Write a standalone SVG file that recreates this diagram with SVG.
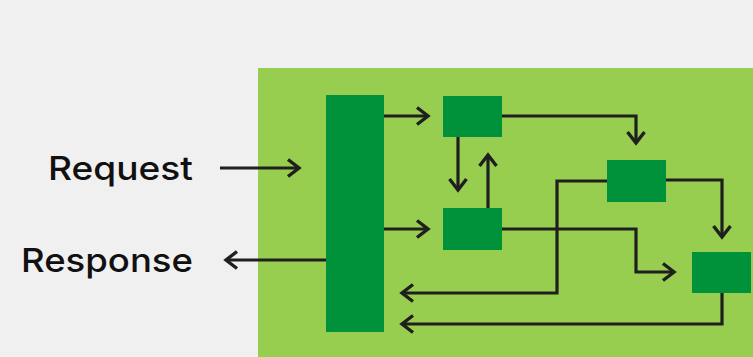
<svg xmlns="http://www.w3.org/2000/svg" width="753" height="357" viewBox="0 0 753 357">
<style>
.bg{fill:#f0f0f0}
.panel{fill:#98ce50}
.node{fill:#00923a}
.conn{fill:none;stroke:#1f1f1f;stroke-width:3.2;stroke-linejoin:miter}
.lbl{font-family:"Inter","Liberation Sans",sans-serif;font-size:33px;font-weight:500;fill:#111;text-anchor:end}
</style>
<defs>
<marker id="arr" markerUnits="userSpaceOnUse" markerWidth="20" markerHeight="22" viewBox="-14 -11 16 22" refX="0" refY="0" orient="auto">
<path d="M-11,-8.5 L0,0 L-11,8.5" fill="none" stroke="#1f1f1f" stroke-width="3.4"/>
</marker>
</defs>
<rect class="bg" x="0" y="0" width="753" height="357"/>
<rect id="panel" class="panel" x="258" y="68" width="495" height="289"/>
<g id="gateway"><rect class="node" x="326" y="95" width="58" height="237"/></g>
<g id="box1"><rect class="node" x="443" y="96" width="59" height="41"/></g>
<g id="box2"><rect class="node" x="443" y="208" width="59" height="42"/></g>
<g id="box3"><rect class="node" x="607" y="160" width="59" height="42"/></g>
<g id="box4"><rect class="node" x="692" y="252" width="59" height="41"/></g>
<g id="labels">
<text class="lbl" x="193" y="180" textLength="145" lengthAdjust="spacingAndGlyphs">Request</text>
<text class="lbl" x="193" y="272" textLength="172" lengthAdjust="spacingAndGlyphs">Response</text>
</g>
<g id="connectors">
<path class="conn" marker-end="url(#arr)" d="M220,168 H299"/>
<path class="conn" marker-end="url(#arr)" d="M326,260 H226"/>
<path class="conn" marker-end="url(#arr)" d="M384,116 H428"/>
<path class="conn" marker-end="url(#arr)" d="M384,229 H428"/>
<path class="conn" marker-end="url(#arr)" d="M458,137 V190"/>
<path class="conn" marker-end="url(#arr)" d="M488,208 V155"/>
<path class="conn" marker-end="url(#arr)" d="M502,116 H636 V143"/>
<path class="conn" marker-end="url(#arr)" d="M666,180 H722 V237"/>
<path class="conn" marker-end="url(#arr)" d="M607,181 H557 V293 H402"/>
<path class="conn" marker-end="url(#arr)" d="M502,229 H636 V272 H674"/>
<path class="conn" marker-end="url(#arr)" d="M722,293 V324 H402"/>
</g>
</svg>
